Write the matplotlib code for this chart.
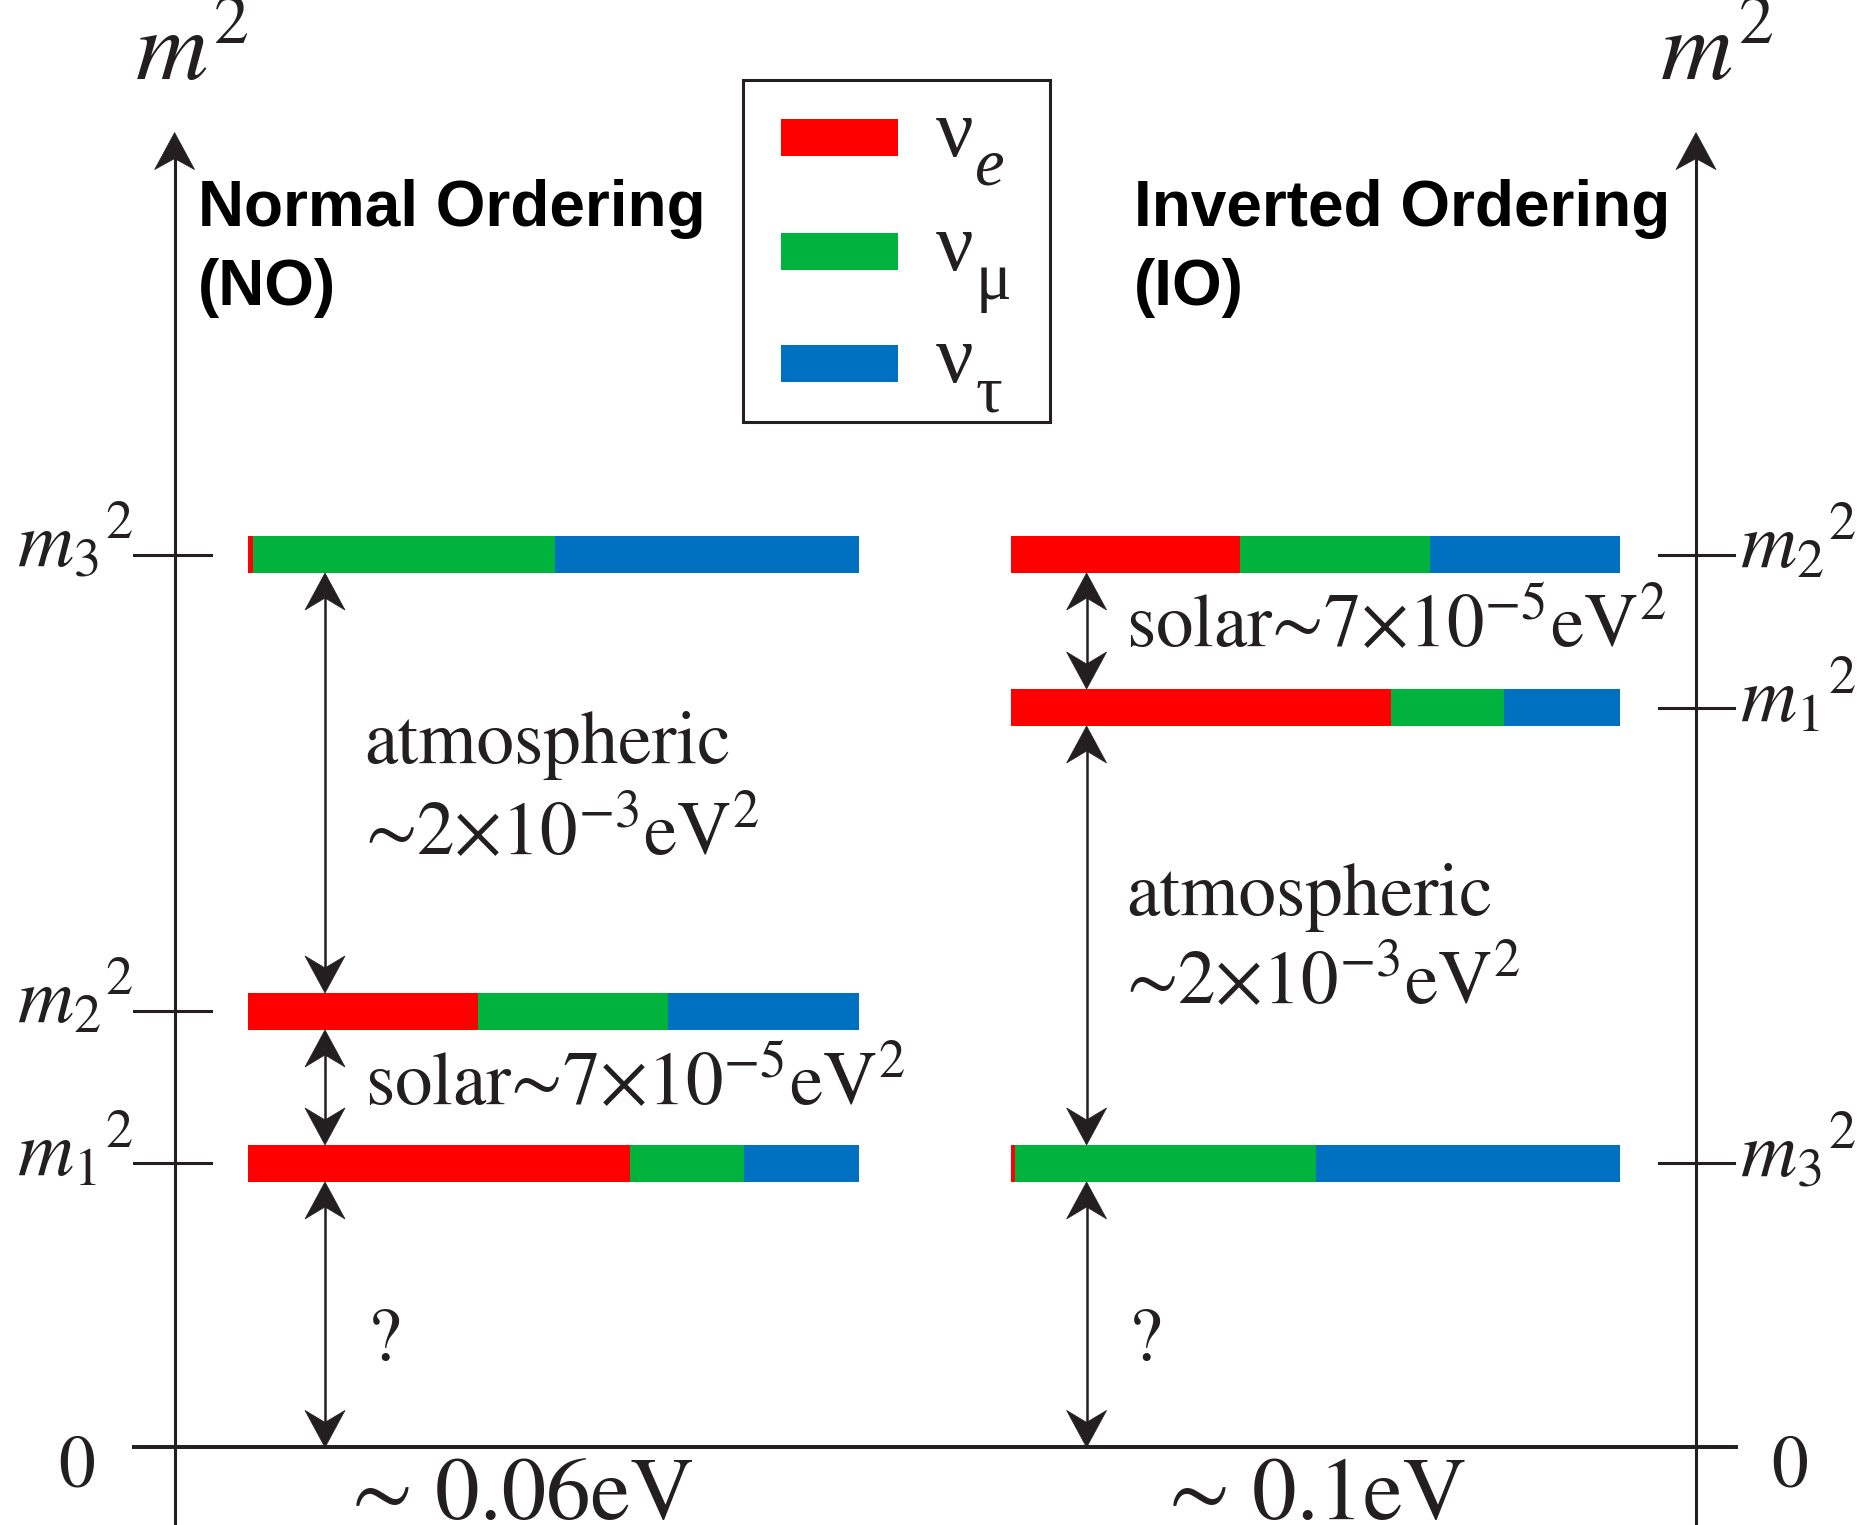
import matplotlib
matplotlib.use('Agg')
import matplotlib.pyplot as plt
from matplotlib.patches import Polygon, Rectangle

plt.rcParams['mathtext.fontset'] = 'stix'
plt.rcParams['mathtext.default'] = 'rm'

# ---------------- data ----------------
flavour_subs = ['e', 'μ', 'τ']
flavour_sub_styles = ['italic', 'normal', 'normal']
flavour_colors = ['#ff0000', '#00b33c', '#0071c1']

state_labels = [r'$\mathit{m}_1{}^2$', r'$\mathit{m}_2{}^2$', r'$\mathit{m}_3{}^2$']
# flavour content of mass states m1, m2, m3
frac_e = [0.625, 0.376, 0.008]
frac_mu = [0.186, 0.312, 0.494]
frac_tau = [0.189, 0.312, 0.498]

# schematic m^2 levels (arbitrary units) for m1, m2, m3
no_levels = [2.84, 4.36, 8.93]
io_levels = [7.40, 8.93, 2.84]

atm_label = ['atmospheric', '∼2×10$^{-3}$eV$^{2}$']
sol_label = 'solar∼7×10$^{-5}$eV$^{2}$'
scale_labels = ['∼ 0.06eV', '∼ 0.1eV']
titles = [['Normal Ordering', '(NO)'], ['Inverted Ordering', '(IO)']]

# ---------------- layout ----------------
INK = '#231f20'
SERIF = 'STIXGeneral'
fig = plt.figure(figsize=(18.62, 15.25), dpi=100)
ax = fig.add_axes([0, 0, 1, 1])
ax.set_xlim(0, 18.62)
ax.set_ylim(-0.776, 14.476)
ax.set_axis_off()

BAR_H = 0.37
HALF = BAR_H / 2
LW_AX = 2.2
LW_AR = 1.8


def head(x, ytip, d, L=0.37, hw=0.2, notch=0.25):
    pts = [(x, ytip), (x - hw, ytip - d * L), (x, ytip - d * notch),
           (x + hw, ytip - d * L)]
    ax.add_patch(Polygon(pts, closed=True, fc=INK, ec=INK, lw=0.5, zorder=5))


def darrow(x, ylo, yhi):
    ax.plot([x, x], [ylo + 0.2, yhi - 0.2], color=INK, lw=LW_AR, zorder=4,
            solid_capstyle='butt')
    head(x, yhi, +1)
    head(x, ylo, -1)


def bars(levels, x0, width):
    cum = [0.0, 0.0, 0.0]
    for fr, col in zip([frac_e, frac_mu, frac_tau], flavour_colors):
        ax.barh(levels, [f * width for f in fr],
                left=[x0 + c * width for c in cum], height=BAR_H,
                color=col, edgecolor='none', zorder=3)
        cum = [c + f for c, f in zip(cum, fr)]


# axes
for xa in (1.746, 16.96):
    ax.plot([xa, xa], [-0.9, 13.15 - 0.25], color=INK, lw=LW_AX,
            solid_capstyle='butt')
    head(xa, 13.15, +1, L=0.37, hw=0.2, notch=0.26)
ax.plot([1.34, 17.36], [0, 0], color=INK, lw=LW_AX * 1.3)

# ticks and state labels
for lev, lab in zip(no_levels, state_labels):
    ax.plot([1.34, 2.11], [lev, lev], color=INK, lw=LW_AX)
    ax.text(1.33, lev - 0.11, lab, ha='right', va='baseline', fontsize=56,
            color=INK)
for lev, lab in zip(io_levels, state_labels):
    ax.plot([16.59, 17.34], [lev, lev], color=INK, lw=LW_AX)
    ax.text(17.40, lev - 0.13, lab, ha='left', va='baseline', fontsize=56,
            color=INK)

# bars
bars(no_levels, 2.48, 6.11)
bars(io_levels, 10.106, 6.09)

# NO arrows
xn = 3.25
darrow(xn, no_levels[1] + HALF, no_levels[2] - HALF)
darrow(xn, no_levels[0] + HALF, no_levels[1] - HALF)
darrow(xn, 0, no_levels[0] - HALF)
# IO arrows
xi = 10.866
darrow(xi, io_levels[0] + HALF, io_levels[1] - HALF)
darrow(xi, io_levels[2] + HALF, io_levels[0] - HALF)
darrow(xi, 0, io_levels[2] - HALF)

tk = dict(fontsize=54, color=INK, family=SERIF, va='baseline', ha='left')
ax.text(3.646, 6.846, atm_label[0], **tk)
ax.text(3.646, 5.926, atm_label[1], **tk)
ax.text(3.646, 3.426, sol_label, **tk)
ax.text(3.68, 0.876, '?', **tk)
ax.text(11.26, 8.006, sol_label, **tk)
ax.text(11.26, 5.326, atm_label[0], **tk)
ax.text(11.26, 4.436, atm_label[1], **tk)
ax.text(11.29, 0.876, '?', **tk)

# zero labels and scale labels
ax.text(0.77, -0.394, '0', fontsize=53, color=INK, family=SERIF,
        ha='center', va='baseline')
ax.text(17.90, -0.394, '0', fontsize=53, color=INK, family=SERIF,
        ha='center', va='baseline')
ax.text(3.52, -0.72, scale_labels[0], fontsize=64, color=INK, family=SERIF,
        ha='left', va='baseline')
ax.text(11.69, -0.72, scale_labels[1], fontsize=64, color=INK, family=SERIF,
        ha='left', va='baseline')

# top m^2 labels
ax.text(1.35, 13.676, r'$\mathit{m}^2$', fontsize=72, color=INK,
        ha='left', va='baseline')
ax.text(16.60, 13.676, r'$\mathit{m}^2$', fontsize=72, color=INK,
        ha='left', va='baseline')

# titles
for (l1, l2), xt in zip(titles, (1.98, 11.34)):
    ax.text(xt, 12.22, l1, fontsize=46, fontweight='bold',
            family='Liberation Sans', color='black', va='baseline')
    ax.text(xt, 11.43, l2, fontsize=46, fontweight='bold',
            family='Liberation Sans', color='black', va='baseline')

# legend box
ax.add_patch(Rectangle((7.43, 10.256), 3.07, 3.42, fill=False, ec=INK,
                       lw=LW_AX, zorder=2))
leg_y = [12.92, 11.78, 10.652]
for yb, col, sub, sty in zip(leg_y, flavour_colors, flavour_subs,
                             flavour_sub_styles):
    ax.add_patch(Rectangle((7.814, yb), 1.164, BAR_H, fc=col, ec='none',
                           zorder=3))
    nu = ax.text(9.36, yb, 'ν', fontsize=60, color=INK, ha='left',
                 va='baseline', family='Liberation Serif')
    ax.annotate(sub, xy=(1.0, yb), xycoords=(nu, 'data'),
                xytext=(1, -21), textcoords='offset points',
                fontsize=48, color=INK, style=sty, ha='left',
                va='baseline', family='Liberation Serif')

fig.savefig('out.png', dpi=100)
